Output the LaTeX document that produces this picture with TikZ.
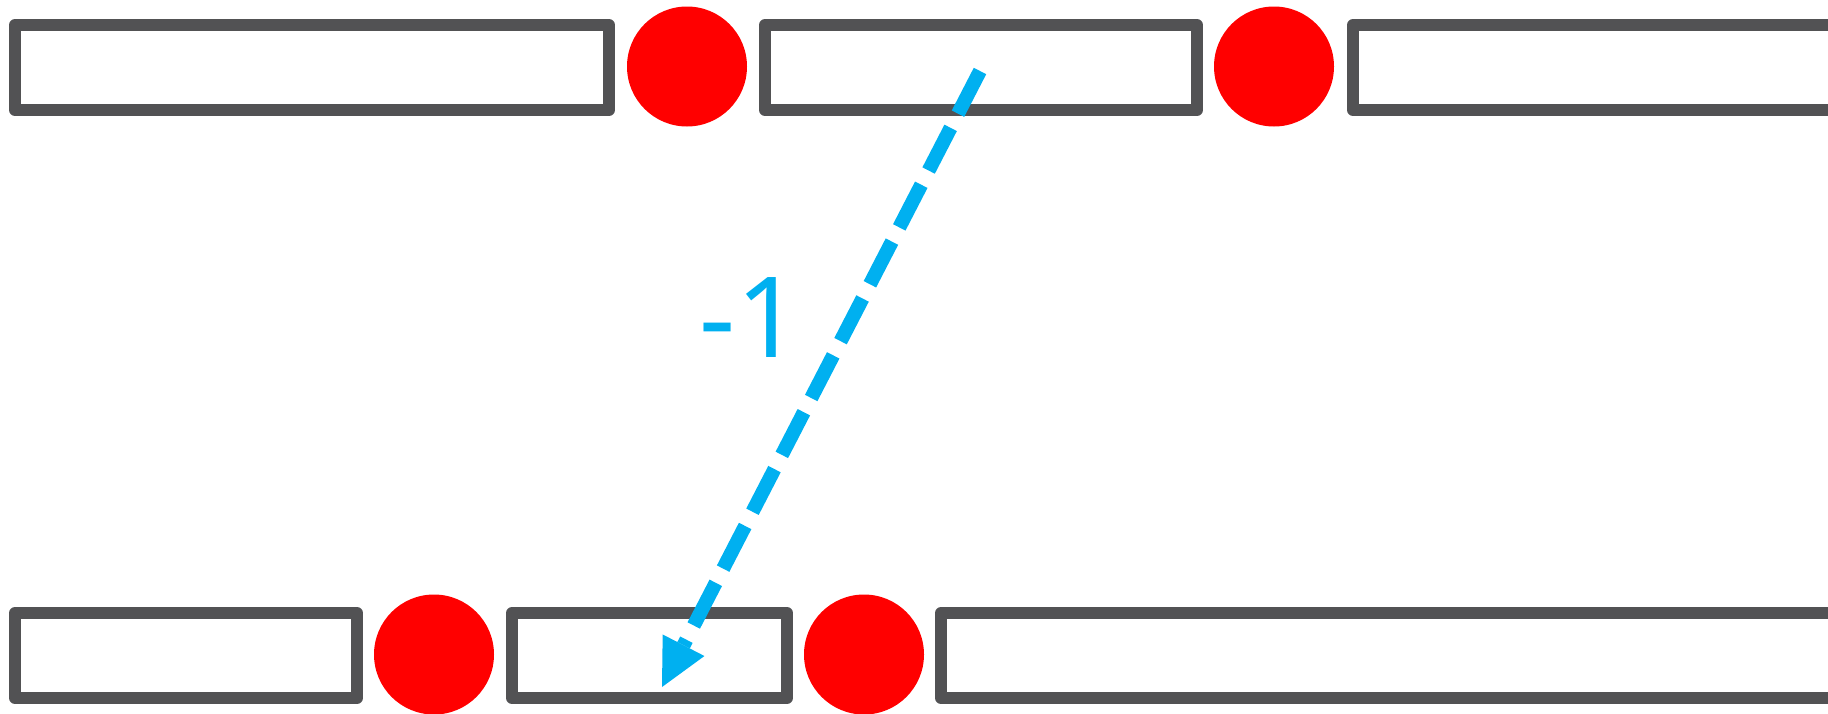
\documentclass[tikz,border=0pt]{standalone}
\usepackage{fontspec}
\newfontfamily\labelfont{Noto Sans}
\usetikzlibrary{arrows.meta}
\definecolor{boxgray}{HTML}{525254}
\definecolor{lineblue}{HTML}{00B0F0}
\definecolor{dotred}{HTML}{FF0000}
\tikzset{
  bar/.style={draw=boxgray, fill=white, line width=6pt, line join=round,
    rectangle, inner sep=0pt, outer sep=0pt, minimum height=42.5pt},
  dot/.style={circle, fill=dotred, draw=none, inner sep=0pt, minimum size=60pt},
  jumpline/.style={draw=lineblue, line width=7pt, dash pattern=on 24pt off 8pt,
    -{Triangle[length=23.5pt,width=23.5pt,line width=0pt]}},
  lbl/.style={text=lineblue, inner sep=0pt, font=\labelfont\fontsize{56}{56}\selectfont}
}
\begin{document}
\begin{tikzpicture}[x=0.5pt,y=-0.5pt]
\useasboundingbox (0,0) rectangle (1828,713);
\clip (0,0) rectangle (1828,713);
% top row
\node[bar, minimum width=297pt] (t1) at (312,67.5) {};
\node[bar, minimum width=216pt] (t2) at (981,67.5) {};
\node[bar, minimum width=300pt] (t3) at (1653,67.5) {};
\node[dot] (c1) at (687,66.5) {};
\node[dot] (c2) at (1274,66.5) {};
% bottom row
\node[bar, minimum width=171pt] (b1) at (186,655.5) {};
\node[bar, minimum width=137.5pt] (b2) at (649.5,655.5) {};
\node[bar, minimum width=500pt] (b3) at (1441,655.5) {};
\node[dot] (c3) at (434,654.5) {};
\node[dot] (c4) at (864,654.5) {};
% connector
\coordinate (astart) at (980,71);
\coordinate (atip) at (662,687);
\draw[jumpline] (astart) -- (atip);
\node[lbl] (m1) at (750,317.5) {-1};
\end{tikzpicture}
\end{document}
